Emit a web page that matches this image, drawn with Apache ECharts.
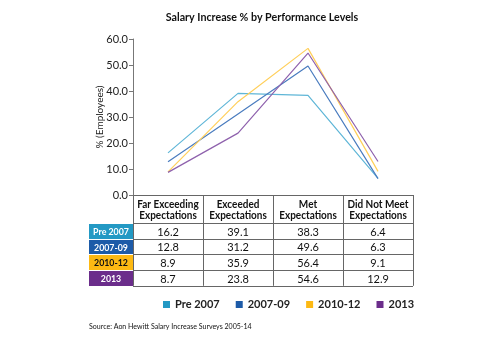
<!DOCTYPE html>
<html><head><meta charset="utf-8">
<script src="https://cdn.jsdelivr.net/npm/echarts@6/dist/echarts.min.js"></script>
<style>html,body{margin:0;padding:0;background:#fff}#c{width:501px;height:341px}</style>
</head><body><div id="c"></div>
<script>
const titleText = 'Salary Increase % by Performance Levels';
const yAxisName = '% (Employees)';
const sourceText = 'Source: Aon Hewitt Salary Increase Surveys 2005-14';
const categories = ['Far Exceeding\nExpectations', 'Exceeded\nExpectations', 'Met\nExpectations', 'Did Not Meet\nExpectations'];
const seriesNames = ['Pre 2007', '2007-09', '2010-12', '2013'];
const pre2007 = [16.2, 39.1, 38.3, 6.4];
const y2007_09 = [12.8, 31.2, 49.6, 6.3];
const y2010_12 = [8.9, 35.9, 56.4, 9.1];
const y2013 = [8.7, 23.8, 54.6, 12.9];
const yTicks = [0, 10, 20, 30, 40, 50, 60];

(function () {
const allValues = [pre2007, y2007_09, y2010_12, y2013];
const strongColors = ['#2399c4', '#1d5ba8', '#fdb913', '#6b2d8b'];
const lineColors = ['#5fb6d7', '#4a7cbf', '#ffcf5a', '#8f62ad'];
const FONT = 'Lato';

const chart = echarts.init(document.getElementById('c'), null, {renderer: 'canvas'});
const option = {
  animation: false,
  grid: {left: 133, right: 88, top: 39, bottom: 146, containLabel: false},
  xAxis: {
    type: 'category', data: categories, boundaryGap: true,
    axisLine: {show: false}, axisTick: {show: false}, axisLabel: {show: false}, splitLine: {show: false}
  },
  yAxis: {
    type: 'value', min: yTicks[0], max: yTicks[yTicks.length - 1], interval: yTicks[1] - yTicks[0],
    name: yAxisName, nameLocation: 'middle', nameRotate: 90, nameGap: 28, nameMoveOverlap: false,
    nameTextStyle: {fontFamily: FONT, fontSize: 10, color: '#222'},
    axisLine: {show: true, lineStyle: {color: '#777', width: 1}},
    axisTick: {show: true, length: 4, lineStyle: {color: '#777'}},
    axisLabel: {formatter: v => v.toFixed(1), fontFamily: FONT, fontSize: 11, color: '#222', margin: 5},
    splitLine: {show: false}
  },
  legend: {
    left: 158, top: 294, icon: 'rect', itemWidth: 7, itemHeight: 7, itemGap: 16,
    textStyle: {fontFamily: FONT, fontSize: 11, fontWeight: 'bold', color: '#222'},
    data: seriesNames
  },
  series: seriesNames.map((n, i) => ({
    name: n, type: 'line', data: allValues[i], showSymbol: false, symbol: 'none',
    itemStyle: {color: strongColors[i]},
    lineStyle: {color: lineColors[i], width: 1.2}
  }))
};
chart.setOption(option);

const xs = categories.map((c, i) => chart.convertToPixel({xAxisIndex: 0}, i));
const colW = xs[1] - xs[0];
const tLeft = xs[0] - colW / 2;
const tRight = xs[xs.length - 1] + colW / 2;
const tTop = chart.convertToPixel({yAxisIndex: 0}, 0);
const headH = 28;
const rowH = 15.7;
const labelLeft = 89;
const tBottom = tTop + headH + rowH * seriesNames.length;
const g = [];
const lineCol = '#666';
g.push({type: 'text', x: 262, y: 11, scaleX: 0.93, style: {text: titleText, font: 'bold 11.5px "' + FONT + '"', fill: '#111', align: 'center', verticalAlign: 'top'}});
g.push({type: 'text', x: 89, y: 322, scaleX: 0.88, style: {text: sourceText, font: '8px "' + FONT + '"', fill: '#111', align: 'left', verticalAlign: 'top'}});
g.push({type: 'line', shape: {x1: tLeft, y1: tTop + 0.5, x2: tRight, y2: tTop + 0.5}, style: {stroke: lineCol, lineWidth: 1}});
for (let r = 0; r <= seriesNames.length; r++) {
  const y = Math.round(tTop + headH + rowH * r) + 0.5;
  g.push({type: 'line', shape: {x1: tLeft, y1: y, x2: tRight, y2: y}, style: {stroke: lineCol, lineWidth: 1}});
}
for (let c = 0; c <= categories.length; c++) {
  const x = Math.round(tLeft + colW * c) + 0.5;
  g.push({type: 'line', shape: {x1: x, y1: tTop, x2: x, y2: tBottom}, style: {stroke: lineCol, lineWidth: 1}});
}
categories.forEach((c, i) => {
  g.push({type: 'text', x: xs[i], y: tTop + headH / 2 + 1, scaleX: 0.95, style: {text: c, font: 'bold 10.5px "' + FONT + '"', fill: '#111', align: 'center', verticalAlign: 'middle', lineHeight: 11}});
});
seriesNames.forEach((n, r) => {
  const y0 = Math.round(tTop + headH + rowH * r) + 1;
  const y1 = Math.round(tTop + headH + rowH * (r + 1));
  g.push({type: 'rect', shape: {x: labelLeft, y: y0, width: tLeft - labelLeft, height: y1 - y0}, style: {fill: strongColors[r]}});
  g.push({type: 'text', x: (labelLeft + tLeft) / 2, y: (y0 + y1) / 2 + 0.5, scaleX: 0.88, style: {text: n, font: 'bold 10px "' + FONT + '"', fill: r === 2 ? '#111' : '#fff', align: 'center', verticalAlign: 'middle'}});
  allValues[r].forEach((v, i) => {
    g.push({type: 'text', x: xs[i], y: (y0 + y1) / 2 + 0.5, style: {text: v.toFixed(1), font: '11px "' + FONT + '"', fill: '#111', align: 'center', verticalAlign: 'middle'}});
  });
});
chart.setOption({graphic: {elements: g}});
})();
</script>
</body></html>
